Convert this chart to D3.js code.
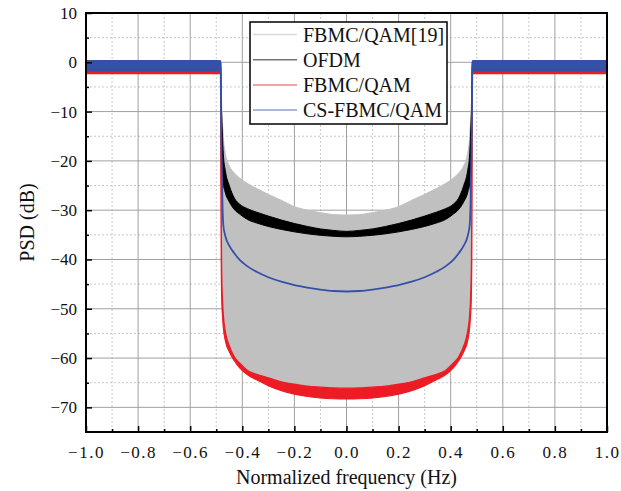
<!DOCTYPE html>
<html>
<head>
<meta charset="utf-8">
<script src="https://cdn.jsdelivr.net/npm/d3@7"></script>
<style>
  body { margin: 0; background: #fff; }
  svg { display: block; }
  svg text { font-family: "Liberation Serif", "Times New Roman", serif !important; }
</style>
</head>
<body>
<svg id="chart" width="621" height="491"></svg>
<script>
// ---- data ----
const freq = [-1.0, -0.484, -0.483, -0.482, -0.481, -0.479, -0.476, -0.473, -0.465, -0.45, -0.43, -0.41, -0.38, -0.345, -0.3, -0.25, -0.2, -0.15, -0.1, -0.05,
  0,
  0.05, 0.1, 0.15, 0.2, 0.25, 0.3, 0.345, 0.38, 0.41, 0.43, 0.45, 0.465, 0.473, 0.476, 0.479, 0.481, 0.482, 0.483, 0.484, 1.0];

// FBMC/QAM[19] envelope (upper / lower), dB
const grayUpper = [0, 0, -1, -4, -6, -8.5, -12, -15, -18.5, -21, -22.5, -23.5, -24.6, -25.6, -26.8, -28, -29.3, -30, -30.5, -30.9,
  -31,
  -30.9, -30.5, -30, -29.3, -28, -26.8, -25.6, -24.6, -23.5, -22.5, -21, -18.5, -15, -12, -8.5, -6, -4, -1, 0, 0];
const grayLower = [-1, -1, -2, -15, -30, -42, -48, -51, -54.6, -57.5, -59.8, -61, -62.5, -63.3, -64, -64.8, -65.3, -65.7, -65.9, -66.05,
  -66.1,
  -66.05, -65.9, -65.7, -65.3, -64.8, -64, -63.3, -62.5, -61, -59.8, -57.5, -54.6, -51, -48, -42, -30, -15, -2, -1, -1];

// OFDM envelope
const blackUpper = [0, 0, 0, -5, -8, -11, -15, -18.5, -22, -25, -27.6, -28.8, -29.7, -30.4, -31.2, -32, -32.7, -33.3, -33.8, -34.1,
  -34.3,
  -34.1, -33.8, -33.3, -32.7, -32, -31.2, -30.4, -29.7, -28.8, -27.6, -25, -22, -18.5, -15, -11, -8, -5, 0, 0, 0];
const blackLower = [-1, -1, -1, -8, -13, -18, -22, -24.5, -26.5, -28.3, -29.9, -30.8, -31.9, -32.6, -33.3, -33.9, -34.4, -34.8, -35.1, -35.3,
  -35.4,
  -35.3, -35.1, -34.8, -34.4, -33.9, -33.3, -32.6, -31.9, -30.8, -29.9, -28.3, -26.5, -24.5, -22, -18, -13, -8, -1, -1, -1];

// FBMC/QAM envelope
const redUpper = [-1.7, -1.7, -2, -15, -30, -42, -48, -51, -54.6, -57.5, -59.8, -61, -62.5, -63.3, -64, -64.8, -65.3, -65.7, -65.9, -66.05,
  -66.1,
  -66.05, -65.9, -65.7, -65.3, -64.8, -64, -63.3, -62.5, -61, -59.8, -57.5, -54.6, -51, -48, -42, -30, -15, -2, -1.7, -1.7];
const redLower = [-2.3, -2.3, -2.3, -25, -40, -48, -51.5, -53.7, -56.5, -58.7, -60.6, -62, -63.4, -64.4, -65.6, -66.6, -67.3, -67.8, -68.1, -68.25,
  -68.3,
  -68.25, -68.1, -67.8, -67.3, -66.6, -65.6, -64.4, -63.4, -62, -60.6, -58.7, -56.5, -53.7, -51.5, -48, -40, -25, -2.3, -2.3, -2.3];

// CS-FBMC/QAM envelope
const blueUpper = [0.3, 0.3, -1, -8, -14, -21, -29, -33, -35.3, -37.2, -38.8, -40.1, -41.4, -42.5, -43.6, -44.5, -45.2, -45.7, -46.1, -46.4,
  -46.5,
  -46.4, -46.1, -45.7, -45.2, -44.5, -43.6, -42.5, -41.4, -40.1, -38.8, -37.2, -35.3, -33, -29, -21, -14, -8, -1, 0.3, 0.3];
const blueLower = [-1.7, -1.7, -1.7, -8, -14, -21, -29, -33, -35.3, -37.2, -38.8, -40.1, -41.4, -42.5, -43.6, -44.5, -45.2, -45.7, -46.1, -46.4,
  -46.5,
  -46.4, -46.1, -45.7, -45.2, -44.5, -43.6, -42.5, -41.4, -40.1, -38.8, -37.2, -35.3, -33, -29, -21, -14, -8, -1.7, -1.7, -1.7];

const seriesNames = ["FBMC/QAM[19]", "OFDM", "FBMC/QAM", "CS-FBMC/QAM"];
const seriesColors = ["#c0c0c0", "#000000", "#ed1c24", "#3550a8"];

const xTicks = [-1.0, -0.8, -0.6, -0.4, -0.2, 0.0, 0.2, 0.4, 0.6, 0.8, 1.0];
const xMinor = [-0.9, -0.7, -0.5, -0.3, -0.1, 0.1, 0.3, 0.5, 0.7, 0.9];
const yTicks = [10, 0, -10, -20, -30, -40, -50, -60, -70];
const yMinor = [5, -5, -15, -25, -35, -45, -55, -65];

const xTitle = "Normalized frequency (Hz)";
const yTitle = "PSD (dB)";

// ---- layout ----
const FONT = '"Liberation Serif", "Times New Roman", serif';
const L = 86, R = 607, T = 13, B = 432;
const svg = d3.select("#chart");
const x = d3.scaleLinear().domain([-1, 1]).range([L, R]);
const y = d3.scaleLinear().domain([-75, 10]).range([B, T]);

// grid
const grid = svg.append("g");
grid.selectAll(".gxm").data(xMinor).enter().append("line")
  .attr("x1", d => x(d)).attr("x2", d => x(d)).attr("y1", T).attr("y2", B)
  .attr("stroke", "#c8c8c8").attr("stroke-width", 1).attr("stroke-dasharray", "2,2");
grid.selectAll(".gym").data(yMinor).enter().append("line")
  .attr("x1", L).attr("x2", R).attr("y1", d => y(d)).attr("y2", d => y(d))
  .attr("stroke", "#c8c8c8").attr("stroke-width", 1).attr("stroke-dasharray", "2,2");
grid.selectAll(".gx").data(xTicks.slice(1, -1)).enter().append("line")
  .attr("x1", d => x(d)).attr("x2", d => x(d)).attr("y1", T).attr("y2", B)
  .attr("stroke", "#a0a0a0").attr("stroke-width", 1);
grid.selectAll(".gy").data(yTicks.slice(1)).enter().append("line")
  .attr("x1", L).attr("x2", R).attr("y1", d => y(d)).attr("y2", d => y(d))
  .attr("stroke", "#a0a0a0").attr("stroke-width", 1);

// data areas
const pts = (up, lo) => freq.map((f, i) => ({ f, u: up[i], l: lo[i] }));
const area = d3.area().x(d => x(d.f)).y0(d => y(d.l)).y1(d => y(d.u)).curve(d3.curveMonotoneX);
const bands = [
  { up: grayUpper, lo: grayLower, sw: 1 },
  { up: blackUpper, lo: blackLower, sw: 1 },
  { up: redUpper, lo: redLower, sw: 1.2 },
  { up: blueUpper, lo: blueLower, sw: 1.8 }
];
const plot = svg.append("g");
bands.forEach((b, i) => {
  plot.append("path").datum(pts(b.up, b.lo))
    .attr("d", area)
    .attr("fill", seriesColors[i])
    .attr("stroke", seriesColors[i])
    .attr("stroke-width", b.sw)
    .attr("stroke-linejoin", "round");
});

// axes
const fmtX = d3.format(".1f");
const xAxis = svg.append("g").attr("transform", `translate(0,${B})`)
  .call(d3.axisBottom(x).tickValues(xTicks).tickSizeInner(-6).tickSizeOuter(0).tickPadding(14).tickFormat(fmtX));
const xAxisMinor = svg.append("g").attr("transform", `translate(0,${B})`)
  .call(d3.axisBottom(x).tickValues(xMinor).tickSizeInner(-3).tickSizeOuter(0).tickFormat(""));
const yAxis = svg.append("g").attr("transform", `translate(${L},0)`)
  .call(d3.axisLeft(y).tickValues(yTicks).tickSizeInner(-6).tickSizeOuter(0).tickPadding(9).tickFormat(d3.format("d")));
const yAxisMinor = svg.append("g").attr("transform", `translate(${L},0)`)
  .call(d3.axisLeft(y).tickValues(yMinor).tickSizeInner(-3).tickSizeOuter(0).tickFormat(""));
[xAxis, xAxisMinor, yAxis, yAxisMinor].forEach(g => {
  g.attr("font-family", null).style("font-family", FONT);
  g.select(".domain").remove();
  g.selectAll(".tick line").attr("stroke", "#000").attr("stroke-width", 1.5);
  g.selectAll("text").style("font-family", FONT).attr("font-size", 17).attr("fill", "#111");
});
xAxis.selectAll("text").attr("letter-spacing", "1.5px");

// frame
svg.append("rect").attr("x", L).attr("y", T).attr("width", R - L).attr("height", B - T)
  .attr("fill", "none").attr("stroke", "#000").attr("stroke-width", 2);

// titles
svg.append("text").attr("x", (L + R) / 2).attr("y", 484).attr("text-anchor", "middle")
  .style("font-family", FONT).attr("font-size", 20).attr("fill", "#111").text(xTitle);
svg.append("text").attr("transform", `translate(34,${(T + B) / 2}) rotate(-90)`).attr("text-anchor", "middle")
  .style("font-family", FONT).attr("font-size", 20).attr("fill", "#111").text(yTitle);

// legend
const lg = svg.append("g").attr("transform", "translate(250,22)");
lg.append("rect").attr("x", 0).attr("y", 0).attr("width", 197).attr("height", 102)
  .attr("fill", "#fff").attr("stroke", "#000").attr("stroke-width", 1.5);
seriesNames.forEach((n, i) => {
  const yy = 12.5 + i * 25.2;
  lg.append("line").attr("x1", 3).attr("x2", 47).attr("y1", yy).attr("y2", yy)
    .attr("stroke", seriesColors[i]).attr("stroke-width", 1.5).attr("stroke-opacity", i === 0 ? 0.6 : 0.55);
  lg.append("text").attr("x", 53).attr("y", yy + 7).style("font-family", FONT).attr("font-size", 20).attr("fill", "#111").text(n);
});
</script>
</body>
</html>
